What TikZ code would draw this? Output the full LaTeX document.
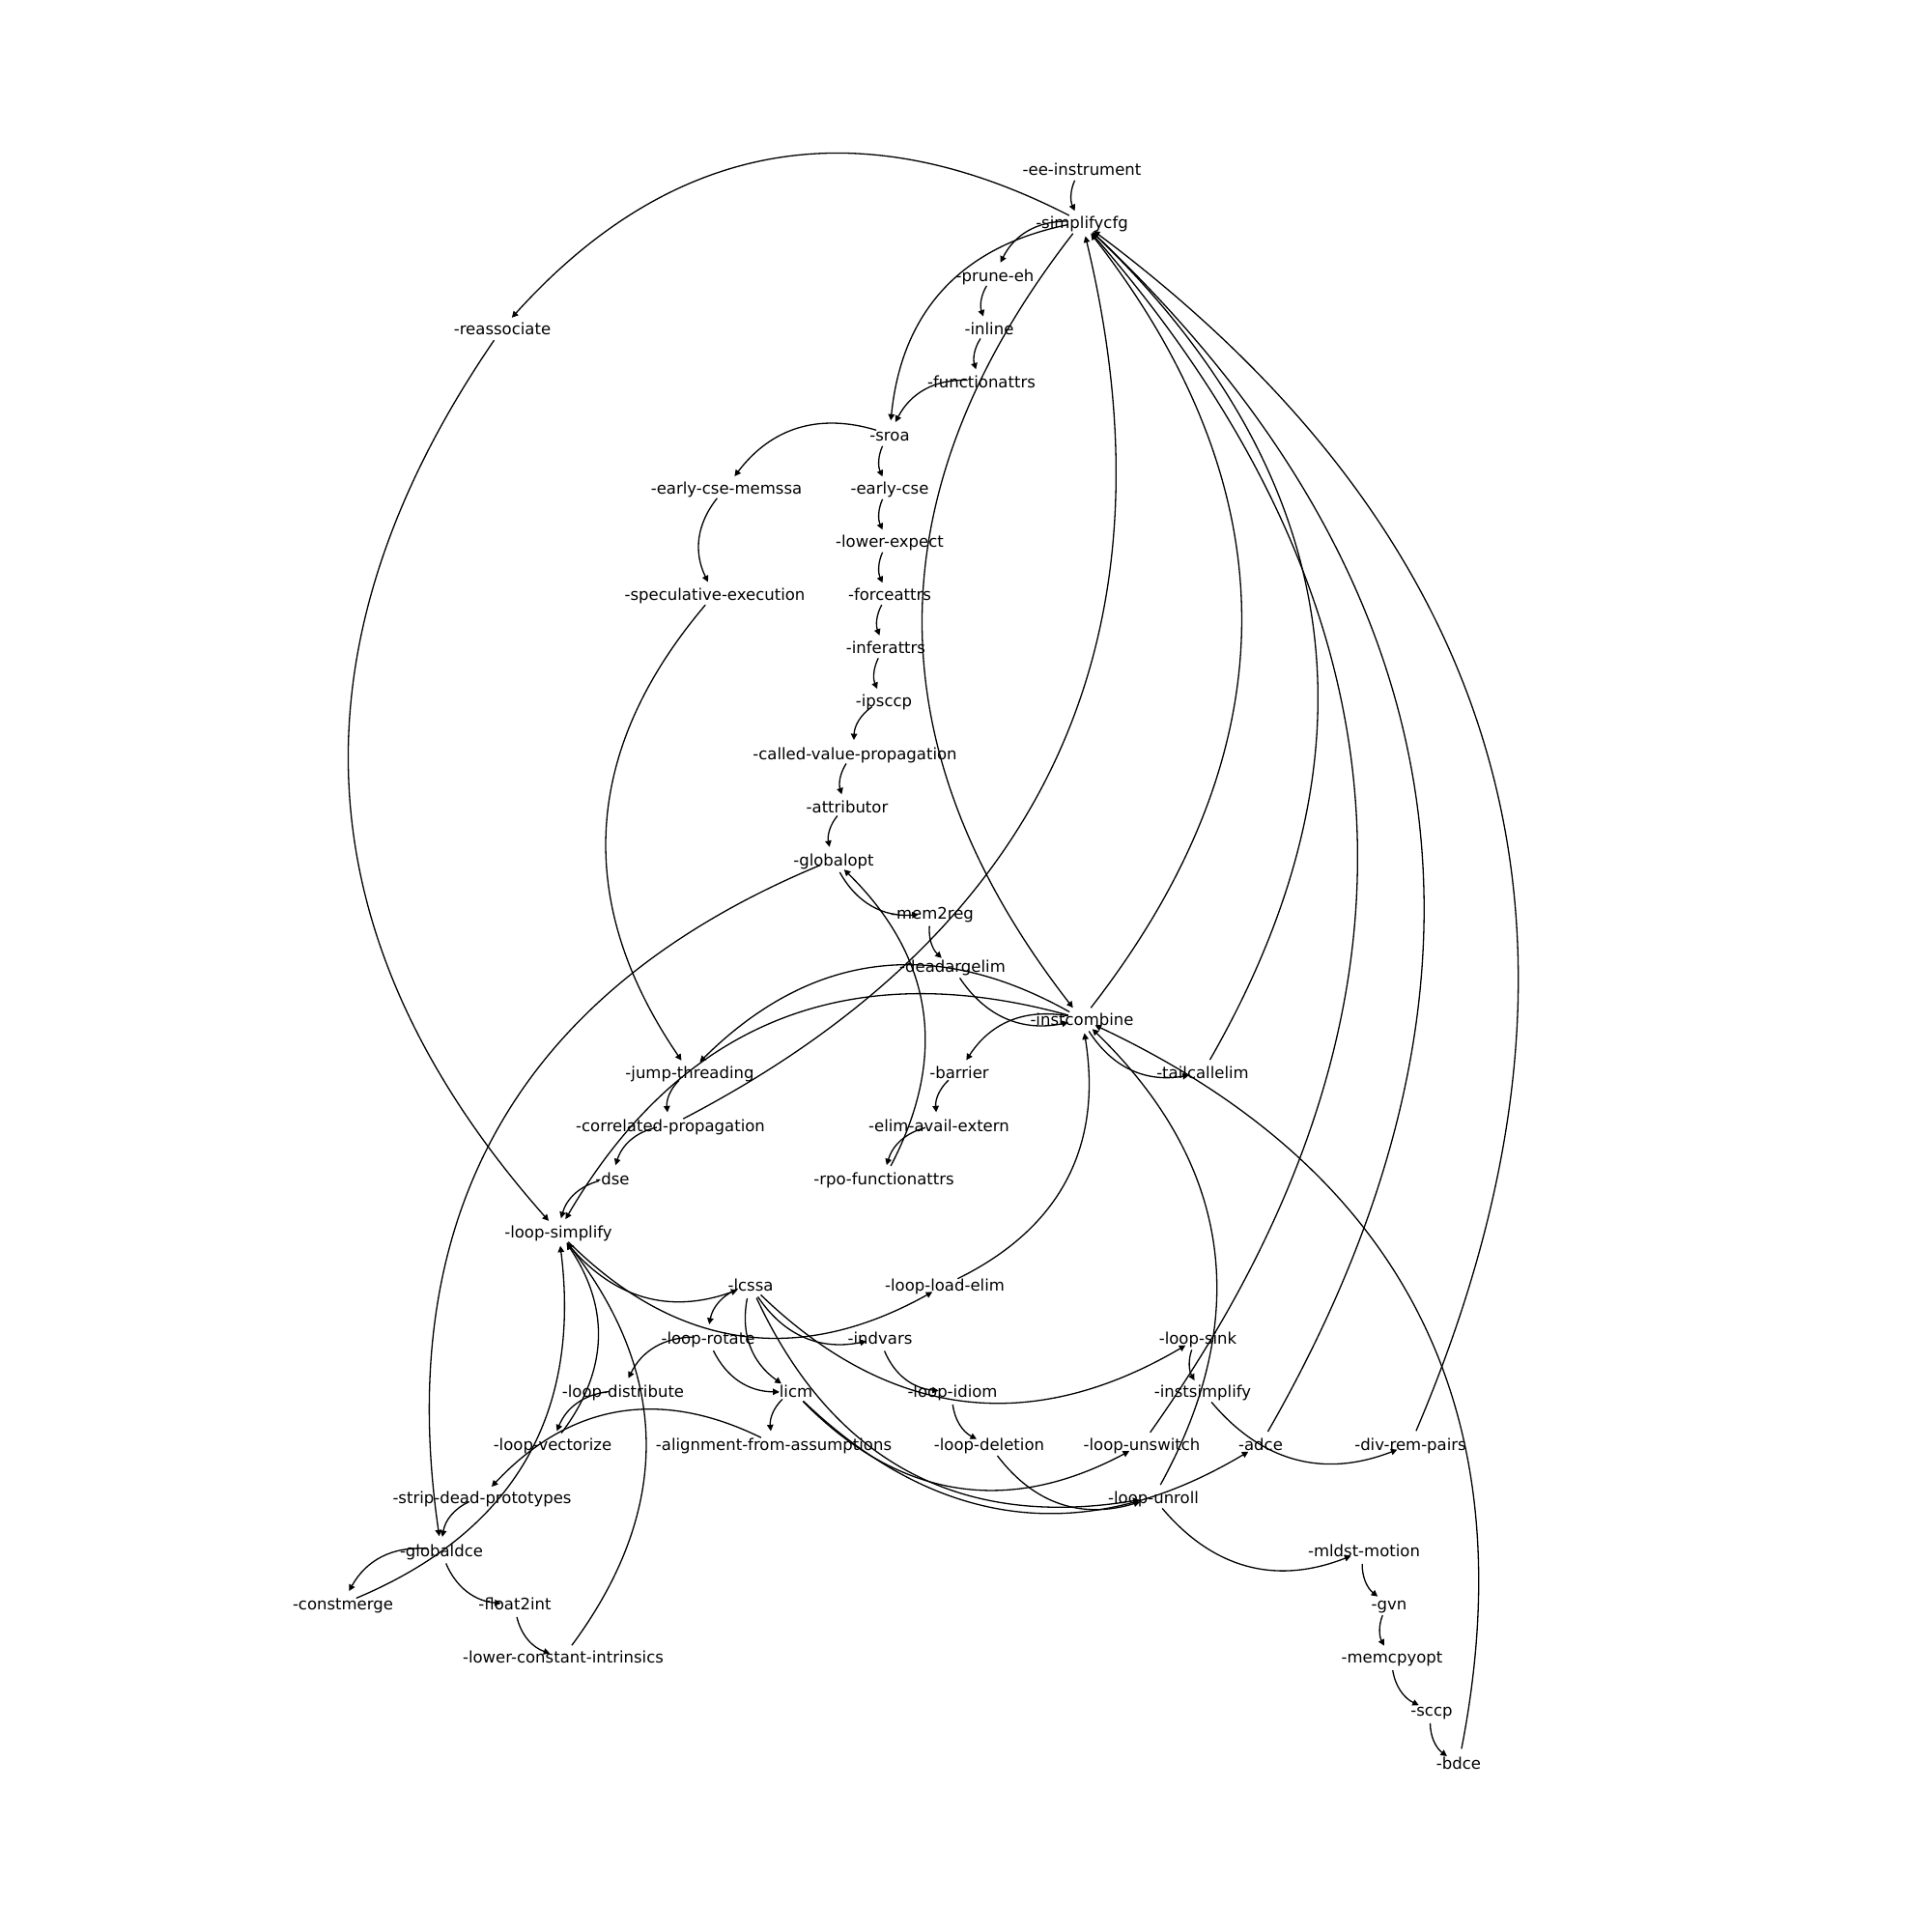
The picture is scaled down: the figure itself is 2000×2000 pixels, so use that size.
\documentclass[tikz,border=0pt]{standalone}
\usepackage{fontspec}
\setmainfont{DejaVu Sans}
\usetikzlibrary{arrows.meta}
\newdimen\edRAx \newdimen\edRAy \newdimen\edRBx \newdimen\edRBy
% connector from node #1 to node #2: matplotlib-like arc3 (rad 0.4) quadratic curve, clipped 15px from centres
\newcommand\edg[2]{%
  \pgfextractx{\edRAx}{\pgfpointanchor{#1}{center}}%
  \pgfextracty{\edRAy}{\pgfpointanchor{#1}{center}}%
  \pgfextractx{\edRBx}{\pgfpointanchor{#2}{center}}%
  \pgfextracty{\edRBy}{\pgfpointanchor{#2}{center}}%
  \pgfmathsetmacro\edax{\edRAx}%
  \pgfmathsetmacro\eday{\edRAy}%
  \pgfmathsetmacro\edbx{\edRBx}%
  \pgfmathsetmacro\edby{\edRBy}%
  \pgfmathsetmacro\eddx{(\edbx)-(\edax)}%
  \pgfmathsetmacro\eddy{(\edby)-(\eday)}%
  \pgfmathsetmacro\edl{veclen((\eddx)/100,(\eddy)/100)*100}%
  \pgfmathsetmacro\edcx{0.5*((\edax)+(\edbx))+0.4*(\eddy)}%
  \pgfmathsetmacro\edcy{0.5*((\eday)+(\edby))-0.4*(\eddx)}%
  \pgfmathsetmacro\edta{15/(1.28*(\edl))}%
  \pgfmathsetmacro\edtb{1-(\edta)}%
  \pgfmathsetmacro\edsx{(1-\edta)^2*(\edax)+2*\edta*(1-\edta)*(\edcx)+(\edta)^2*(\edbx)}%
  \pgfmathsetmacro\edsy{(1-\edta)^2*(\eday)+2*\edta*(1-\edta)*(\edcy)+(\edta)^2*(\edby)}%
  \pgfmathsetmacro\edex{(1-\edtb)^2*(\edax)+2*\edtb*(1-\edtb)*(\edcx)+(\edtb)^2*(\edbx)}%
  \pgfmathsetmacro\edey{(1-\edtb)^2*(\eday)+2*\edtb*(1-\edtb)*(\edcy)+(\edtb)^2*(\edby)}%
  \pgfmathsetmacro\edqx{(1-\edta)*(1-\edtb)*(\edax)+(\edta*(1-\edtb)+\edtb*(1-\edta))*(\edcx)+\edta*\edtb*(\edbx)}%
  \pgfmathsetmacro\edqy{(1-\edta)*(1-\edtb)*(\eday)+(\edta*(1-\edtb)+\edtb*(1-\edta))*(\edcy)+\edta*\edtb*(\edby)}%
  \pgfmathsetmacro\edkax{(\edsx)+2*((\edqx)-(\edsx))/3}%
  \pgfmathsetmacro\edkay{(\edsy)+2*((\edqy)-(\edsy))/3}%
  \pgfmathsetmacro\edkbx{(\edex)+2*((\edqx)-(\edex))/3}%
  \pgfmathsetmacro\edkby{(\edey)+2*((\edqy)-(\edey))/3}%
  \draw[edge] (\edsx pt,\edsy pt) .. controls (\edkax pt,\edkay pt) and (\edkbx pt,\edkby pt) .. (\edex pt,\edey pt);%
}
\tikzset{
  pass/.style={inner sep=0pt, outer sep=0pt, text height=13pt, text depth=0pt,
    font=\fontsize{16.5pt}{19pt}\selectfont},
  edge/.style={draw=black, line width=1.3pt, line join=miter,
    -{Triangle[length=6.5pt,width=6.5pt]}}
}
\begin{document}
\begin{tikzpicture}[x=1pt,y=-1pt]
\fill[white] (0,0) rectangle (2000,2000);
\useasboundingbox (0,0) rectangle (2000,2000);
% nodes
\node[pass] (ee)          at (1120,175)  {-ee-instrument};
\node[pass] (scfg)        at (1120,230)  {-simplifycfg};
\node[pass] (pruneeh)     at (1030,285)  {-prune-eh};
\node[pass] (reassoc)     at (520,340)   {-reassociate};
\node[pass] (inline)      at (1024,340)  {-inline};
\node[pass] (fattrs)      at (1016,395)  {-functionattrs};
\node[pass] (sroa)        at (921,450)   {-sroa};
\node[pass] (ecsemssa)    at (752,505)   {-early-cse-memssa};
\node[pass] (ecse)        at (921,505)   {-early-cse};
\node[pass] (lowerexp)    at (921,560)   {-lower-expect};
\node[pass] (specexec)    at (740,615)   {-speculative-execution};
\node[pass] (forceattrs)  at (921,615)   {-forceattrs};
\node[pass] (inferattrs)  at (917,670)   {-inferattrs};
\node[pass] (ipsccp)      at (915,725)   {-ipsccp};
\node[pass] (cvp)         at (885,780)   {-called-value-propagation};
\node[pass] (attributor)  at (877,835)   {-attributor};
\node[pass] (globalopt)   at (863,890)   {-globalopt};
\node[pass] (memreg)      at (965,945)   {-mem2reg};
\node[pass] (deadarg)     at (986,1000)  {-deadargelim};
\node[pass] (instcombine) at (1120,1055) {-instcombine};
\node[pass] (jumpthr)     at (714,1110)  {-jump-threading};
\node[pass] (barrier)     at (993,1110)  {-barrier};
\node[pass] (tailcall)    at (1245,1110) {-tailcallelim};
\node[pass] (corrprop)    at (694,1165)  {-correlated-propagation};
\node[pass] (elimavail)   at (972,1165)  {-elim-avail-extern};
\node[pass] (dse)         at (634,1220)  {-dse};
\node[pass] (rpofattrs)   at (915,1220)  {-rpo-functionattrs};
\node[pass] (loopsimp)    at (578,1275)  {-loop-simplify};
\node[pass] (lcssa)       at (777,1330)  {-lcssa};
\node[pass] (looploadelim) at (978,1330) {-loop-load-elim};
\node[pass] (looprotate)  at (733,1385)  {-loop-rotate};
\node[pass] (indvars)     at (911,1385)  {-indvars};
\node[pass] (loopsink)    at (1240,1385) {-loop-sink};
\node[pass] (loopdist)    at (645,1440)  {-loop-distribute};
\node[pass] (licm)        at (821,1440)  {-licm};
\node[pass] (loopidiom)   at (986,1440)  {-loop-idiom};
\node[pass] (instsimp)    at (1245,1440) {-instsimplify};
\node[pass] (loopvec)     at (572,1495)  {-loop-vectorize};
\node[pass] (alignfa)     at (801,1495)  {-alignment-from-assumptions};
\node[pass] (loopdel)     at (1024,1495) {-loop-deletion};
\node[pass] (loopunsw)    at (1182,1495) {-loop-unswitch};
\node[pass] (adce)        at (1305,1495) {-adce};
\node[pass] (divrem)      at (1460,1495) {-div-rem-pairs};
\node[pass] (stripdp)     at (499,1550)  {-strip-dead-prototypes};
\node[pass] (loopunroll)  at (1194,1550) {-loop-unroll};
\node[pass] (globaldce)   at (457,1605)  {-globaldce};
\node[pass] (mldst)       at (1412,1605) {-mldst-motion};
\node[pass] (constmerge)  at (355,1660)  {-constmerge};
\node[pass] (floattoint)  at (533,1660)  {-float2int};
\node[pass] (gvn)         at (1438,1660) {-gvn};
\node[pass] (lowerci)     at (583,1715)  {-lower-constant-intrinsics};
\node[pass] (memcpyopt)   at (1441,1715) {-memcpyopt};
\node[pass] (sccp)        at (1482,1770) {-sccp};
\node[pass] (bdce)        at (1510,1825) {-bdce};
% connectors
\edg{ee}{scfg}
\edg{scfg}{sroa}
\edg{sroa}{ecse}
\edg{ecse}{lowerexp}
\edg{lowerexp}{forceattrs}
\edg{forceattrs}{inferattrs}
\edg{inferattrs}{ipsccp}
\edg{ipsccp}{cvp}
\edg{cvp}{attributor}
\edg{attributor}{globalopt}
\edg{globalopt}{memreg}
\edg{memreg}{deadarg}
\edg{deadarg}{instcombine}
\edg{instcombine}{scfg}
\edg{scfg}{pruneeh}
\edg{pruneeh}{inline}
\edg{inline}{fattrs}
\edg{fattrs}{sroa}
\edg{sroa}{ecsemssa}
\edg{ecsemssa}{specexec}
\edg{specexec}{jumpthr}
\edg{jumpthr}{corrprop}
\edg{corrprop}{scfg}
\edg{scfg}{instcombine}
\edg{instcombine}{tailcall}
\edg{tailcall}{scfg}
\edg{scfg}{reassoc}
\edg{reassoc}{loopsimp}
\edg{loopsimp}{lcssa}
\edg{lcssa}{looprotate}
\edg{looprotate}{licm}
\edg{licm}{loopunsw}
\edg{loopunsw}{scfg}
\edg{instcombine}{loopsimp}
\edg{lcssa}{indvars}
\edg{indvars}{loopidiom}
\edg{loopidiom}{loopdel}
\edg{loopdel}{loopunroll}
\edg{loopunroll}{mldst}
\edg{mldst}{gvn}
\edg{gvn}{memcpyopt}
\edg{memcpyopt}{sccp}
\edg{sccp}{bdce}
\edg{bdce}{instcombine}
\edg{instcombine}{jumpthr}
\edg{corrprop}{dse}
\edg{dse}{loopsimp}
\edg{lcssa}{licm}
\edg{licm}{adce}
\edg{adce}{scfg}
\edg{instcombine}{barrier}
\edg{barrier}{elimavail}
\edg{elimavail}{rpofattrs}
\edg{rpofattrs}{globalopt}
\edg{globalopt}{globaldce}
\edg{globaldce}{floattoint}
\edg{floattoint}{lowerci}
\edg{lowerci}{loopsimp}
\edg{looprotate}{loopdist}
\edg{loopdist}{loopvec}
\edg{loopvec}{loopsimp}
\edg{loopsimp}{looploadelim}
\edg{looploadelim}{instcombine}
\edg{lcssa}{loopunroll}
\edg{loopunroll}{instcombine}
\edg{licm}{alignfa}
\edg{alignfa}{stripdp}
\edg{stripdp}{globaldce}
\edg{globaldce}{constmerge}
\edg{constmerge}{loopsimp}
\edg{lcssa}{loopsink}
\edg{loopsink}{instsimp}
\edg{instsimp}{divrem}
\edg{divrem}{scfg}
\end{tikzpicture}
\end{document}
